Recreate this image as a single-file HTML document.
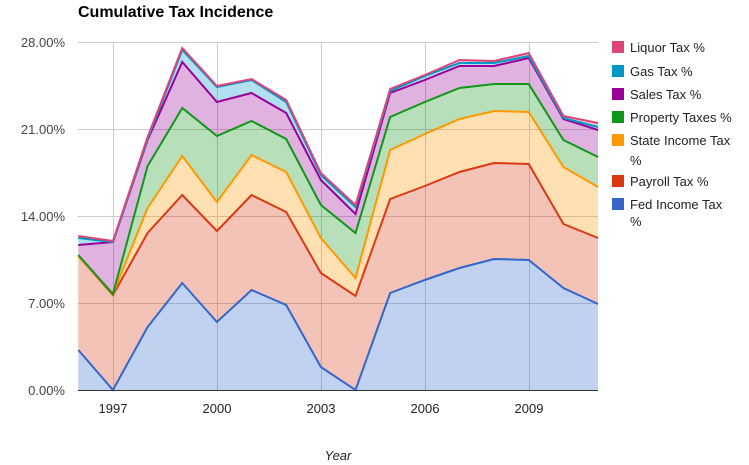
<!DOCTYPE html>
<html><head><style>body{margin:0;background:#fff}svg{display:block;font-family:"Liberation Sans",Arial,sans-serif}</style></head>
<body>
<svg width="749" height="465" xmlns="http://www.w3.org/2000/svg">
<rect width="749" height="465" fill="#fff"/>
<text x="78" y="17" font-size="16" font-weight="bold" fill="#000">Cumulative Tax Incidence</text>
<g stroke="#ccc" stroke-width="1">
<line x1="78" y1="42.5" x2="598" y2="42.5"/><line x1="78" y1="129.5" x2="598" y2="129.5"/>
<line x1="78" y1="216.5" x2="598" y2="216.5"/><line x1="78" y1="303.5" x2="598" y2="303.5"/>
<line x1="113.5" y1="42" x2="113.5" y2="390"/><line x1="217.5" y1="42" x2="217.5" y2="390"/>
<line x1="321.5" y1="42" x2="321.5" y2="390"/><line x1="425.5" y1="42" x2="425.5" y2="390"/>
<line x1="529.5" y1="42" x2="529.5" y2="390"/>
</g>
<g id="areas"></g>
<line x1="78" y1="390.5" x2="598" y2="390.5" stroke="#333"/>
<g font-size="13" fill="#444" text-anchor="end">
<text x="65" y="47">28.00%</text><text x="65" y="134">21.00%</text><text x="65" y="221">14.00%</text><text x="65" y="308">7.00%</text><text x="65" y="395">0.00%</text>
</g>
<g font-size="13" fill="#222" text-anchor="middle">
<text x="113" y="413">1997</text><text x="217" y="413">2000</text><text x="321" y="413">2003</text><text x="425" y="413">2006</text><text x="529" y="413">2009</text>
</g>
<text x="338" y="460" font-size="13" font-style="italic" fill="#222" text-anchor="middle">Year</text>
<g font-size="13" fill="#222">
<rect x="612" y="41" width="12" height="12" fill="#dd4477"/><text x="630" y="52">Liquor Tax %</text>
<rect x="612" y="65" width="12" height="12" fill="#0099c6"/><text x="630" y="76">Gas Tax %</text>
<rect x="612" y="88" width="12" height="12" fill="#990099"/><text x="630" y="99">Sales Tax %</text>
<rect x="612" y="111" width="12" height="12" fill="#109618"/><text x="630" y="122">Property Taxes %</text>
<rect x="612" y="134" width="12" height="12" fill="#ff9900"/><text x="630" y="145">State Income Tax</text><text x="630" y="165">%</text>
<rect x="612" y="175" width="12" height="12" fill="#dc3912"/><text x="630" y="186">Payroll Tax %</text>
<rect x="612" y="198" width="12" height="12" fill="#3366cc"/><text x="630" y="209">Fed Income Tax</text><text x="630" y="226">%</text>
</g>
<script>
var S=[
["#3366cc",[350,390,327,283,322,290,305,367,390,293,280,268,259,260,288,304]],
["#dc3912",[256,295,233,195,231,195,212,273,296,199,186,172,163,164,224,238]],
["#ff9900",[256,294,208,156,202,155,172,238,278,150,134,119,111,112,167,187]],
["#109618",[255,294,166,108,136,121,139,205,233,117,102,88,84,84,140,157]],
["#990099",[245,242,140,62,102,93,113,180,214,93,80,66,66,58,119,130]],
["#0099c6",[238,242,139,50,87,80,102,175,207,91,76,63,63,56,118,127]],
["#dd4477",[236,241,137,48,86,79,100,173,205,89,75,60,61,53,116,123]]];
var g=document.getElementById('areas'),ns="http://www.w3.org/2000/svg";
function X(i){return 78.3+i*34.65;}
var prev=S[0][1].map(function(){return 390;});
S.forEach(function(s){var pts=[];s[1].forEach(function(y,i){pts.push(X(i)+","+y);});
var bot=[];for(var i=prev.length-1;i>=0;i--)bot.push(X(i)+","+prev[i]);
var p=document.createElementNS(ns,"polygon");p.setAttribute("points",pts.concat(bot).join(" "));p.setAttribute("fill",s[0]);p.setAttribute("fill-opacity","0.3");g.appendChild(p);
prev=s[1];});
S.forEach(function(s){var pts=[];s[1].forEach(function(y,i){pts.push(X(i)+","+y);});
var l=document.createElementNS(ns,"polyline");l.setAttribute("points",pts.join(" "));l.setAttribute("fill","none");l.setAttribute("stroke",s[0]);l.setAttribute("stroke-width","2");g.appendChild(l);});
</script>
</svg>
</body></html>
